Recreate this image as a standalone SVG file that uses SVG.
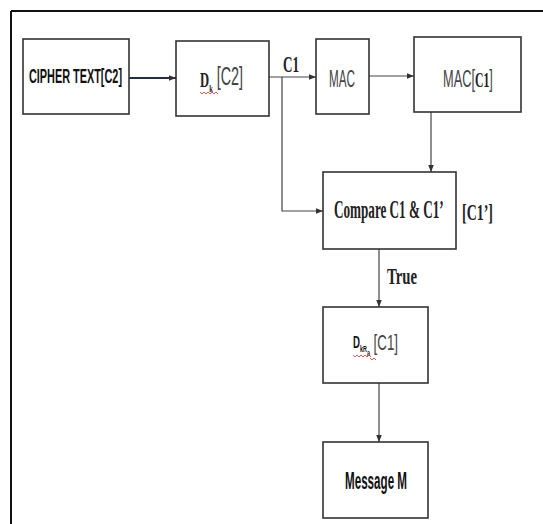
<svg xmlns="http://www.w3.org/2000/svg" width="543" height="524" viewBox="0 0 543 524">
<defs>
<style>
.box{fill:#fff;stroke:#333;stroke-width:1.6}
.ln{fill:none;stroke:#444;stroke-width:1.2}
.sb{font-family:"Liberation Sans",Arial,sans-serif;font-weight:bold;fill:#111}
.sl{font-family:"Liberation Sans",Arial,sans-serif;font-weight:normal;fill:#444}
.rb{font-family:"Liberation Serif","Times New Roman",serif;font-weight:bold;fill:#222}
.sq{fill:none;stroke:#e03030;stroke-width:0.8}
</style>
<marker id="ah" viewBox="0 0 10 10" refX="10" refY="5" markerWidth="7" markerHeight="7" orient="auto" markerUnits="userSpaceOnUse">
<path d="M0,1 L10,5 L0,9 Z" fill="#333"/>
</marker>
</defs>
<rect width="543" height="524" fill="#fff"/>
<path d="M11,11 H543 M11,11 V524" fill="none" stroke="#111" stroke-width="2"/>
<g id="connectors">
<line x1="129" y1="78" x2="176" y2="78" stroke="#1f2d4a" stroke-width="2" marker-end="url(#ah)"/>
<line class="ln" x1="269" y1="77" x2="316" y2="77" marker-end="url(#ah)"/>
<polyline class="ln" points="282,77 282,211 323,211" marker-end="url(#ah)"/>
<line class="ln" x1="369" y1="76" x2="414" y2="76" marker-end="url(#ah)"/>
<line class="ln" x1="431" y1="112" x2="431" y2="172" marker-end="url(#ah)"/>
<line class="ln" x1="379" y1="249" x2="379" y2="307" marker-end="url(#ah)"/>
<line class="ln" x1="379" y1="383" x2="379" y2="442" marker-end="url(#ah)"/>
<text class="rb" x="283" y="72" font-size="24" textLength="16" lengthAdjust="spacingAndGlyphs">C1</text>
<text class="rb" x="387" y="284" font-size="23" textLength="30" lengthAdjust="spacingAndGlyphs">True</text>
<text class="rb" font-size="23" transform="translate(462,220) scale(0.607,1)">[C1’]</text>
</g>
<g id="cipher">
<rect class="box" x="23" y="39" width="106" height="75"/>
<text class="sb" x="29" y="83" font-size="20" textLength="93" lengthAdjust="spacingAndGlyphs">CIPHER TEXT[C2]</text>
</g>
<g id="dk">
<rect class="box" x="176" y="41" width="93" height="75"/>
<text transform="translate(200,87) scale(0.575,1)"><tspan class="rb" font-size="22">D</tspan><tspan class="rb" font-size="11" dy="5">k</tspan><tspan class="sl" font-size="25" dy="-7"> [C2]</tspan></text>
<path class="sq" d="M200,92 l2,2 l2,-2 l2,2 l2,-2 l2,2 l2,-2 l2,2 l2,-2 l2,2"/>
</g>
<g id="mac">
<rect class="box" x="316" y="39" width="53" height="75"/>
<text class="sl" x="329" y="87" font-size="24" textLength="26" lengthAdjust="spacingAndGlyphs">MAC</text>
</g>
<g id="macc1">
<rect class="box" x="414" y="37" width="107" height="75"/>
<text transform="translate(443,87) scale(0.534,1)"><tspan class="sl" font-size="24">MAC[</tspan><tspan class="rb" font-size="22">C1</tspan><tspan class="sl" font-size="24">]</tspan></text>
</g>
<g id="compare">
<rect class="box" x="323" y="172" width="133" height="77"/>
<text class="rb" font-size="25" transform="translate(334,218) scale(0.526,1)">Compare C1 &amp; C1’</text>
</g>
<g id="dkra">
<rect class="box" x="323" y="307" width="105" height="76"/>
<text transform="translate(353,348) scale(0.603,1)"><tspan class="sb" font-size="16">D</tspan><tspan class="sb" font-size="9" dy="4">kR</tspan><tspan class="sb" font-size="9" dy="4">a</tspan><tspan class="sl" font-size="22" dy="-6"> [C1]</tspan></text>
<path class="sq" d="M353,355 l2,2 l2,-2 l2,2 l2,-2 l2,2 l2,-2 l2,2 l2,-2 l2,2 M370,358 l2,2 l2,-2 l2,2"/>
</g>
<g id="message">
<rect class="box" x="323" y="442" width="105" height="76"/>
<text class="sb" x="345" y="489" font-size="24" textLength="62" lengthAdjust="spacingAndGlyphs">Message M</text>
</g>
</svg>
